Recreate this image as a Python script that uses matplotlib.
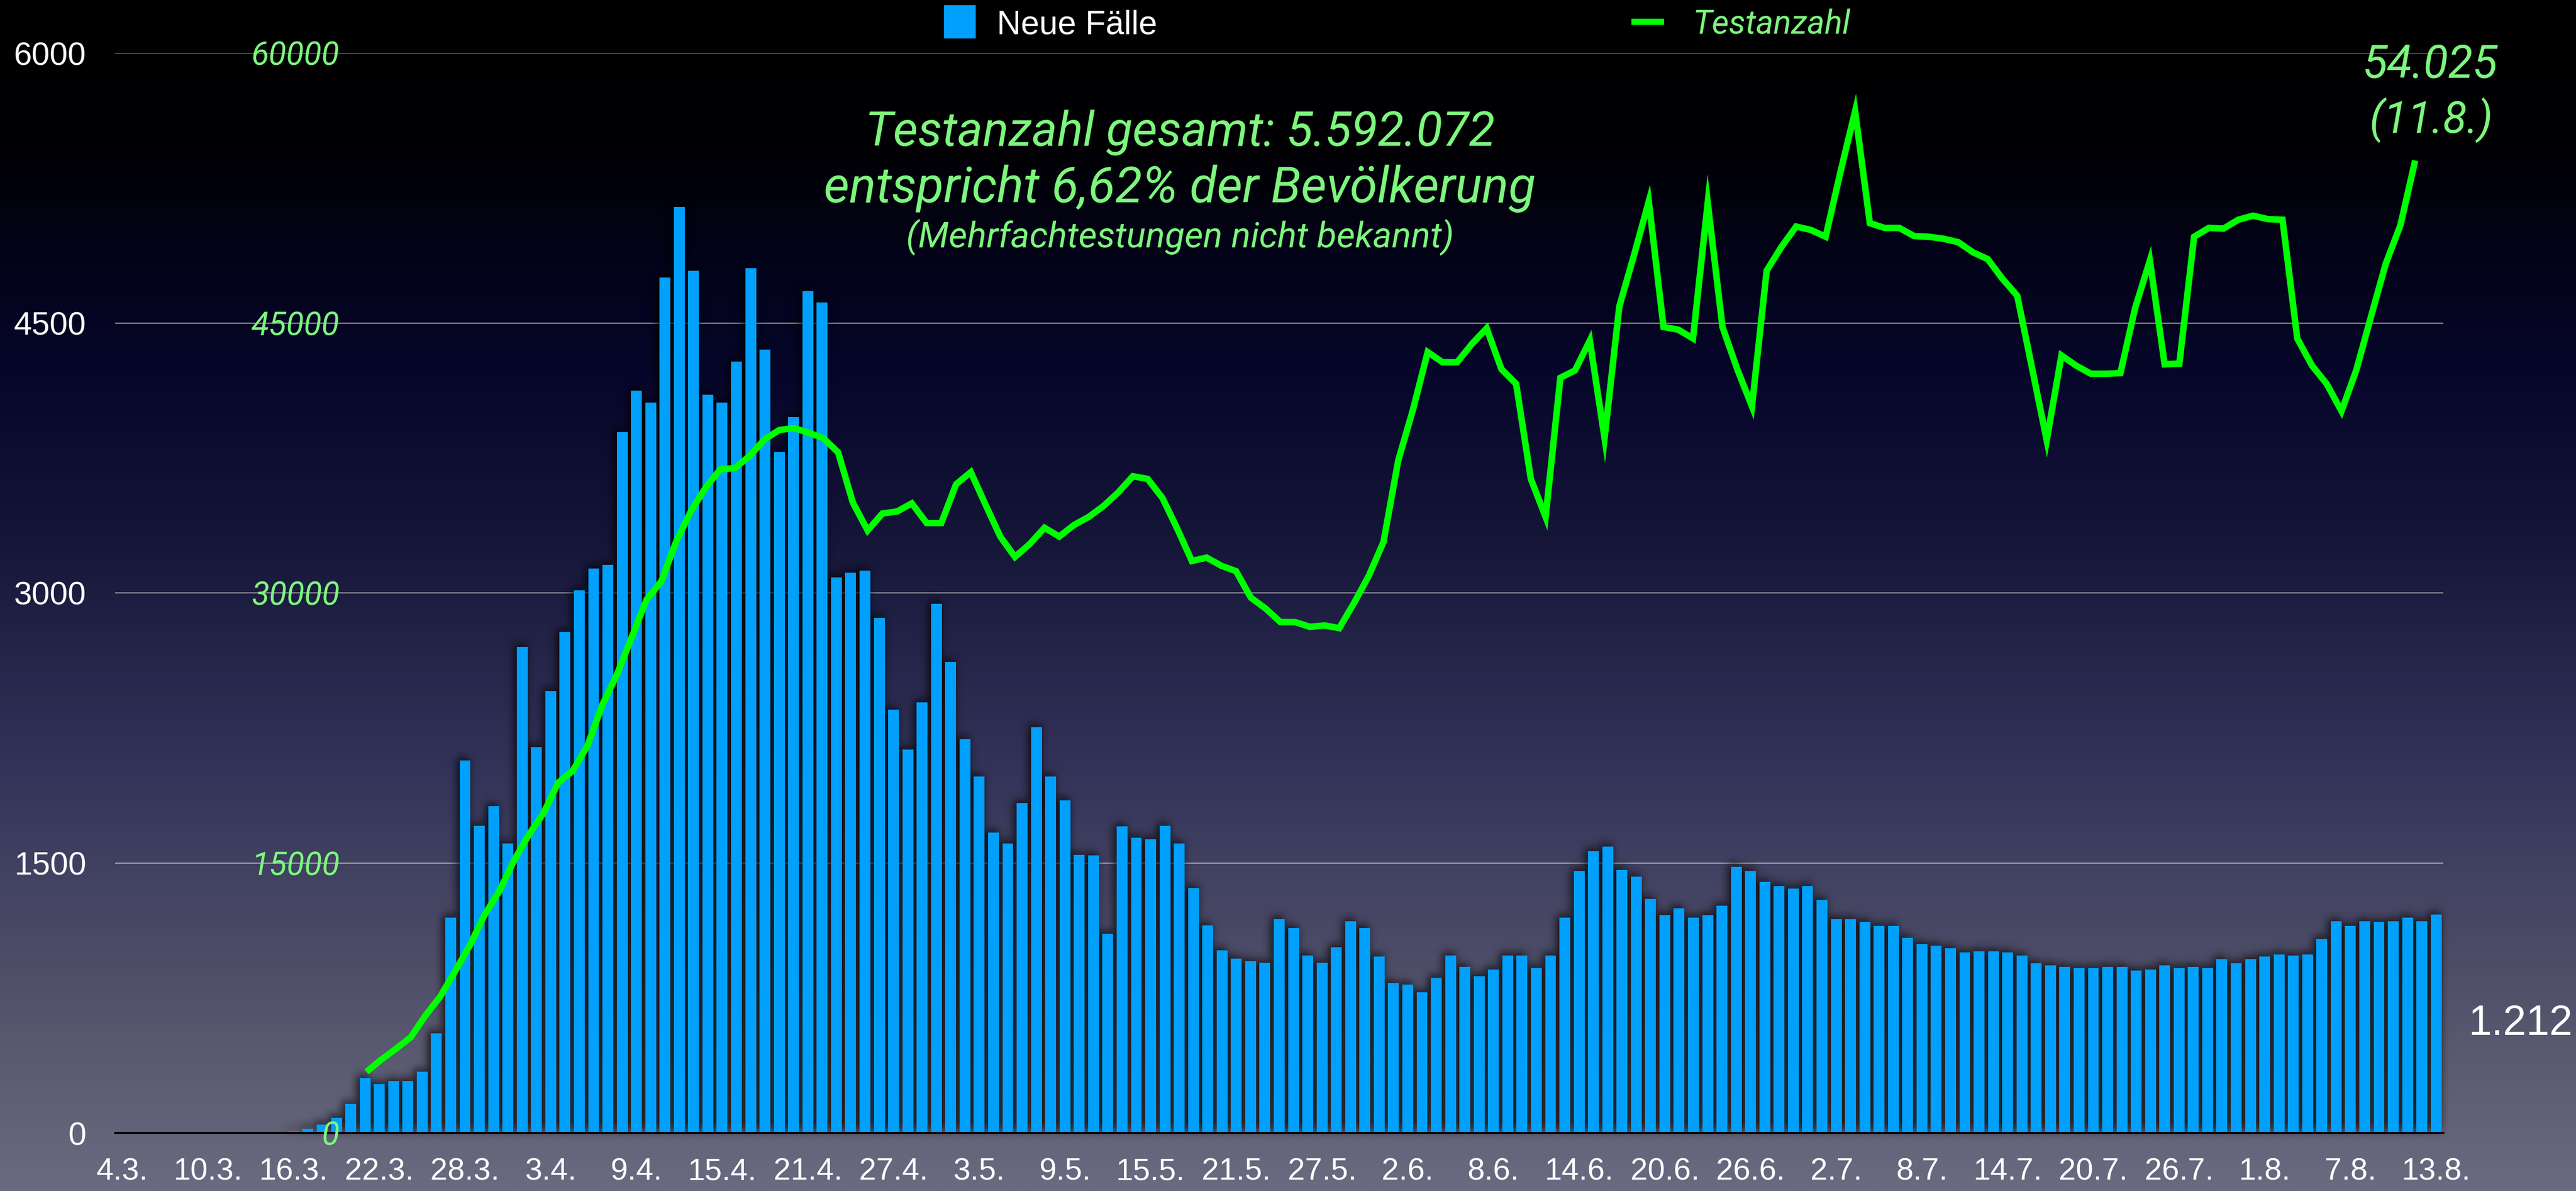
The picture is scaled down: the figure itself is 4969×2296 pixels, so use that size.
import numpy as np
import pandas as pd
import matplotlib
matplotlib.use("Agg")
import matplotlib.pyplot as plt
from matplotlib.colors import LinearSegmentedColormap
from matplotlib.patches import Rectangle
from matplotlib.collections import PatchCollection
from matplotlib.lines import Line2D

W, H, DPI = 4969, 2296, 100

# daily categories of the bar chart
dates = pd.date_range("2020-03-04", "2020-08-13", freq="D")
day_labels = [f"{d.day}.{d.month}." for d in dates]

# Neue Fälle per day (4.3. - 13.8.)
cases = [
    0, 0, 0, 0, 0, 0, 0, 0, 0, 0,
    0, 0, 8, 22, 45, 85, 160, 306, 271, 287,
    287, 341, 554, 1195, 2069, 1707, 1817, 1609, 2699, 2145,
    2454, 2785, 3015, 3136, 3155, 3893, 4123, 4059, 4753, 5145,
    4790, 4101, 4059, 4285, 4805, 4353, 3784, 3976, 4677, 4613,
    3087, 3113, 3124, 2861, 2352, 2130, 2393, 2940, 2616, 2186,
    1979, 1670, 1609, 1832, 2254, 1979, 1847, 1545, 1541, 1108,
    1704, 1640, 1632, 1707, 1609, 1361, 1153, 1014, 969, 954,
    946, 1187, 1138, 987, 946, 1033, 1176, 1138, 980, 833,
    825, 780, 863, 987, 923, 871, 908, 987, 987, 916,
    987, 1195, 1455, 1564, 1591, 1462, 1425, 1300, 1210, 1248,
    1195, 1210, 1263, 1477, 1455, 1395, 1372, 1357, 1372, 1293,
    1187, 1187, 1172, 1150, 1150, 1085, 1048, 1040, 1025, 1003,
    1010, 1010, 1003, 987, 942, 931, 923, 916, 916, 923,
    923, 901, 908, 931, 916, 923, 916, 965, 942, 965,
    980, 991, 987, 991, 1078, 1176, 1150, 1176, 1172, 1176,
    1195, 1176, 1212,
]

# Testanzahl series (own category axis, last value 11.8.)
tests = [
    3392, 4071, 4674, 5314, 6520, 7576, 8970, 10402, 12098, 13418,
    15114, 16546, 17752, 19448, 20126, 21521, 23782, 25478, 27551, 29624,
    30642, 32828, 34524, 35843, 36861, 36936, 37615, 38519, 39047, 39160,
    38896, 38595, 37803, 35014, 33469, 34411, 34524, 34976, 33883, 33883,
    36031, 36710, 34901, 33130, 31999, 32715, 33619, 33130, 33770, 34222,
    34825, 35579, 36484, 36333, 35278, 33581, 31772, 31961, 31508, 31207,
    29737, 29134, 28380, 28380, 28116, 28192, 28041, 29436, 30944, 32828,
    37351, 40178, 43382, 42816, 42816, 43834, 44701, 42439, 41610, 36333,
    34222, 41949, 42364, 44022, 38595, 45906, 48771, 51748, 44776, 44625,
    44135, 51673, 44776, 42439, 40366, 47904, 49223, 50354, 50165, 49788,
    53369, 56761, 50542, 50278, 50278, 49826, 49788, 49675, 49486, 48921,
    48544, 47451, 46508, 42514, 38481, 43193, 42627, 42175, 42175, 42213,
    45831, 48469, 42703, 42740, 49788, 50278, 50241, 50731, 50957, 50768,
    50731, 44135, 42627, 41610, 40102, 42364, 45341, 48281, 50429, 54025,
]
tests_last_day = "11.8."

case_ticks = [0, 1500, 3000, 4500, 6000]
test_ticks = [0, 15000, 30000, 45000, 60000]

BLUE = "#00a0fc"
GREEN = "#00ff00"
LIGHT_GREEN = "#7cf77c"
SANS = ["Liberation Sans", "DejaVu Sans"]
ITAL = dict(family=["Roboto", "DejaVu Sans"], style="italic", weight="normal")


def fx(x):
    return x / W


def fy(y):
    return 1 - y / H


def box_blur(a, r, axis):
    k = 2 * r + 1
    pw = [(0, 0), (0, 0)]
    pw[axis] = (r + 1, r)
    c = np.cumsum(np.pad(a, pw), axis=axis)
    if axis == 0:
        return (c[k:] - c[:-k]) / k
    return (c[:, k:] - c[:, :-k]) / k


def drop_shadow(im, dpi):
    pad = 60
    a = np.pad(im[..., 3], pad)
    for _ in range(3):
        a = box_blur(a, 8, 0)
        a = box_blur(a, 8, 1)
    a = np.roll(a, (-5, -4), axis=(0, 1))
    out = np.zeros(a.shape + (4,))
    out[..., 3] = np.clip(a * 0.85, 0, 1)
    return out, -pad, -pad


fig = plt.figure(figsize=(W / DPI, H / DPI), dpi=DPI)

# background gradient
bg = fig.add_axes([0, 0, 1, 1], zorder=0)
stops = [(0.0, "#000000"), (0.12, "#010104"), (0.22, "#03031a"),
         (0.32, "#07072c"), (0.45, "#151538"), (0.55, "#25254a"),
         (0.65, "#34345a"), (0.75, "#444463"), (0.87, "#57576e"),
         (1.0, "#6a6a80")]
bg_cmap = LinearSegmentedColormap.from_list("bg", stops)
bg.imshow(np.linspace(0, 1, 1024)[:, None], aspect="auto", cmap=bg_cmap,
          extent=[0, 1, 0, 1], interpolation="bilinear")
bg.set_axis_off()

rect = [fx(222), fy(2184), fx(4713) - fx(222), (2184 - 102) / H]

# bars: Neue Fälle
ax = fig.add_axes(rect, zorder=1)
ax.patch.set_alpha(0)
x = np.arange(len(cases))
bar_w = 0.76
shadow = PatchCollection(
    [Rectangle((xi - bar_w / 2, 0), bar_w, v) for xi, v in zip(x, cases) if v > 0],
    facecolor="black", edgecolor="none", zorder=2)
shadow.set_agg_filter(drop_shadow)
ax.add_collection(shadow)
ax.bar(x, cases, width=bar_w, color=BLUE, zorder=3)
ax.set_xlim(-0.5, len(cases) - 0.5)
ax.set_ylim(0, 6000)
ax.set_yticks(case_ticks)
ax.yaxis.grid(True, color="#a9a9ae", lw=1.5, zorder=1)
ax.set_axisbelow(True)
for side in ["top", "right", "left"]:
    ax.spines[side].set_visible(False)
ax.spines["bottom"].set_color("black")
ax.spines["bottom"].set_linewidth(2.8)
ax.spines["bottom"].set_zorder(4)
ax.set_xticks(x[::6])
ax.set_xticklabels(day_labels[::6])
ax.tick_params(axis="x", length=0, pad=34, labelsize=43, labelcolor="white")
ax.tick_params(axis="y", length=0, pad=40, labelsize=45, labelcolor="white")
for lab in ax.get_xticklabels() + ax.get_yticklabels():
    lab.set_fontfamily(SANS)

# line: Testanzahl on its own axes
axl = fig.add_axes(rect, zorder=2)
axl.patch.set_alpha(0)
step = 28.43
axl.set_xlim((222 - 707) / step, (4713 - 707) / step)
axl.set_ylim(0, 60000)
axl.plot(np.arange(len(tests)), tests, color=GREEN, lw=9, solid_joinstyle="miter",
         solid_capstyle="butt", zorder=5)
axl.set_xticks([])
axl.set_yticks(test_ticks)
axl.yaxis.tick_left()
axl.tick_params(axis="y", length=0, pad=-(655 - 222) * 0.72, labelsize=45,
                labelcolor=LIGHT_GREEN)
for lab in axl.get_yticklabels():
    lab.set_fontfamily(ITAL["family"])
    lab.set_fontstyle("italic")
for side in axl.spines:
    axl.spines[side].set_visible(False)

fmt = lambda v: f"{v:,}".replace(",", ".")
axl.annotate(fmt(tests[-1]), xy=(len(tests) - 1, tests[-1]), xytext=(29, 159),
             textcoords="offset pixels", ha="center", va="baseline",
             fontsize=63, color=LIGHT_GREEN, annotation_clip=False, **ITAL)
axl.annotate(f"({tests_last_day})", xy=(len(tests) - 1, tests[-1]), xytext=(31, 53),
             textcoords="offset pixels", ha="center", va="baseline",
             fontsize=61, color=LIGHT_GREEN, annotation_clip=False, **ITAL)
ax.annotate(fmt(cases[-1]), xy=(len(cases) - 1, cases[-1]), xytext=(63, -232),
            textcoords="offset pixels", ha="left", va="baseline",
            fontsize=58, color="white", family=SANS, annotation_clip=False)

# summary text
fig.text(fx(2276), fy(281), "Testanzahl gesamt: 5.592.072", ha="center", va="baseline",
         fontsize=67, color=LIGHT_GREEN, **ITAL)
fig.text(fx(2276), fy(390), "entspricht 6,62% der Bevölkerung", ha="center",
         va="baseline", fontsize=69, color=LIGHT_GREEN, **ITAL)
fig.text(fx(2276), fy(476), "(Mehrfachtestungen nicht bekannt)", ha="center",
         va="baseline", fontsize=50, color=LIGHT_GREEN, **ITAL)

# legend
fig.add_artist(Rectangle((fx(1821), fy(73)), fx(1881) - fx(1821), (73 - 10) / H,
                         transform=fig.transFigure, color=BLUE))
fig.text(fx(1923), fy(66), "Neue Fälle", ha="left", va="baseline", fontsize=46,
         color="white", family=SANS)
fig.add_artist(Line2D([fx(3147), fx(3210)], [fy(42), fy(42)], transform=fig.transFigure,
                      color=GREEN, lw=8.6, solid_capstyle="butt"))
fig.text(fx(3266), fy(66), "Testanzahl", ha="left", va="baseline", fontsize=46,
         color=LIGHT_GREEN, **ITAL)

fig.savefig("out.png", dpi=DPI)
